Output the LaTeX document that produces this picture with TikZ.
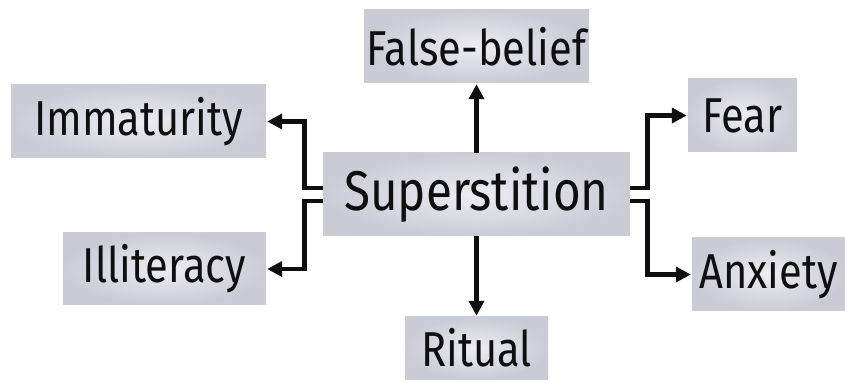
\documentclass[tikz,border=0pt]{standalone}
\usepackage{fontspec}
\setmainfont{Fira Sans}[FakeStretch=0.85]
\usetikzlibrary{arrows.meta,calc}
\definecolor{boxout}{RGB}{202,203,213}
\definecolor{boxin}{RGB}{236,236,242}
\definecolor{ink}{RGB}{15,15,15}
\tikzset{
  lbl/.style={shading=radial, inner color=boxin, outer color=boxout,
    inner sep=0pt, text=ink, font=\fontsize{49}{49}\selectfont},
  arr/.style={line width=4.8pt, draw=ink, -{Triangle[length=15pt,width=15pt]}, shorten >=1pt},
}
\begin{document}
\begin{tikzpicture}[x=1pt,y=1pt]
\useasboundingbox (0,0) rectangle (845,388);
\node[lbl, minimum width=307pt, minimum height=83pt, font=\fontsize{56}{56}\selectfont] (sup) at (476.5,193.5) {Superstition};
\node[lbl, minimum width=225pt, minimum height=73pt] (fb) at (476.5,341.5) {False-belief};
\node[lbl, minimum width=255pt, minimum height=73pt] (imm) at (138.5,266.5) {Immaturity};
\node[lbl, minimum width=203pt, minimum height=72pt] (ill) at (164.5,119) {Illiteracy};
\node[lbl, minimum width=109pt, minimum height=73pt] (fear) at (742.5,272.5) {Fear};
\node[lbl, minimum width=153pt, minimum height=73pt] (anx) at (768.5,113.5) {Anxiety};
\node[lbl, minimum width=143pt, minimum height=62pt] (rit) at (476.5,40) {Ritual};
\draw[arr] (sup.north) -- (fb.south);
\draw[arr] (sup.south) -- (rit.north);
\draw[arr] ([yshift=6.5pt]sup.west) -- ++(-18,0) |- (imm.east);
\draw[arr] ([yshift=-6.5pt]sup.west) -- ++(-18,0) |- (ill.east);
\draw[arr] ([yshift=6.5pt]sup.east) -- ++(17,0) |- (fear.west);
\draw[arr] ([yshift=-6.5pt]sup.east) -- ++(17,0) |- (anx.west);
\end{tikzpicture}
\end{document}
